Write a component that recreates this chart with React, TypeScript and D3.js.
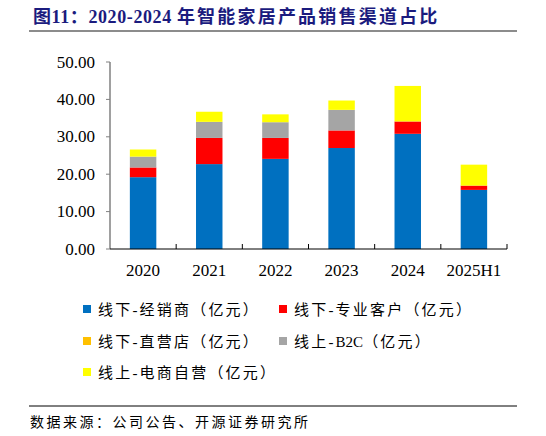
import * as d3 from "d3";

const categories = ["2020", "2021", "2022", "2023", "2024", "2025H1"];
const seriesNames = [
  "线下-经销商（亿元）",
  "线下-专业客户（亿元）",
  "线下-直营店（亿元）",
  "线上-B2C（亿元）",
  "线上-电商自营（亿元）",
];
const seriesColors = ["#0070C0", "#FF0000", "#FFC000", "#A5A5A5", "#FFFF00"];
const dealer = [19.2, 22.7, 24.1, 27.0, 30.8, 15.8];
const professional = [2.6, 7.0, 5.6, 4.7, 3.3, 1.15];
const directStore = [0, 0, 0, 0, 0, 0];
const b2c = [2.9, 4.3, 4.2, 5.5, 0, 0];
const ecommerce = [1.9, 2.7, 2.1, 2.5, 9.5, 5.6];
const yTickValues = [0, 10, 20, 30, 40, 50];

const serif = "'Liberation Serif', 'Times New Roman', 'Noto Sans CJK SC', serif";

// CJK runs get extra spacing, latin runs (like "-B2C") stay tight
function spaced(label: string, gap: number) {
  const parts = label.match(/[A-Za-z0-9]+|[^A-Za-z0-9]+/g) ?? [label];
  return parts.map((p, i) => (
    <tspan key={i} letterSpacing={/[A-Za-z0-9]/.test(p) ? 0 : gap}>
      {p}
    </tspan>
  ));
}

export default function App() {
  const width = 546;
  const height = 436;
  const plot = { left: 110, right: 507, top: 62, bottom: 249 };

  const x = d3
    .scaleBand<string>()
    .domain(categories)
    .range([plot.left, plot.right])
    .paddingInner(0.6)
    .paddingOuter(0.3);
  const band = d3.scaleBand<string>().domain(categories).range([plot.left, plot.right]);
  const y = d3.scaleLinear().domain([0, 50]).range([plot.bottom, plot.top]);

  const values = [dealer, professional, directStore, b2c, ecommerce];
  const rows = categories.map((c, i) => {
    const r: Record<string, number | string> = { cat: c };
    values.forEach((v, k) => (r[`s${k}`] = v[i]));
    return r;
  });
  const stack = d3.stack<Record<string, number | string>>().keys(values.map((_, k) => `s${k}`));
  const layers = stack(rows as any);

  // legend layout: two columns, three rows
  const legendPos = [
    [83, 309],
    [279, 309],
    [83, 341],
    [279, 341],
    [83, 372],
  ];

  return (
    <svg
      width={width}
      height={height}
      style={{ position: "absolute", left: 0, top: 0, background: "#fff" }}
    >
      {/* title */}
      <text
        x={33}
        y={23}
        fontFamily={serif}
        fontWeight="bold"
        fontSize={18}
        fill="#1B1B7E"
      >
        <tspan letterSpacing={0.6}>图11：2020-2024 </tspan>
        <tspan letterSpacing={2.2}>年智能家居产品销售渠道占比</tspan>
      </text>
      <line x1={29} x2={517} y1={31} y2={31} stroke="#666" strokeWidth={1.5} />

      {/* bars */}
      {layers.map((layer, k) =>
        layer.map((d, i) => {
          const h = y(d[0]) - y(d[1]);
          if (h <= 0) return null;
          return (
            <rect
              key={`${k}-${i}`}
              x={x(categories[i])}
              y={y(d[1])}
              width={x.bandwidth()}
              height={h}
              fill={seriesColors[k]}
            />
          );
        }),
      )}

      {/* y axis */}
      <line x1={plot.left} x2={plot.left} y1={plot.top} y2={plot.bottom} stroke="#808080" strokeWidth={1.5} />
      {yTickValues.map((t) => (
        <g key={t}>
          <line x1={plot.left - 4} x2={plot.left} y1={y(t)} y2={y(t)} stroke="#808080" />
          <text
            x={95}
            y={y(t) + 5.5}
            textAnchor="end"
            fontFamily={serif}
            fontSize={17}
            fill="#000"
          >
            {t.toFixed(2)}
          </text>
        </g>
      ))}

      {/* x axis */}
      <line x1={plot.left} x2={plot.right} y1={plot.bottom} y2={plot.bottom} stroke="#000" strokeWidth={1} />
      {categories.map((c) => (
        <line
          key={`xt-${c}`}
          x1={band(c)! + band.bandwidth()}
          x2={band(c)! + band.bandwidth()}
          y1={plot.bottom - 5}
          y2={plot.bottom}
          stroke="#000"
        />
      ))}
      {categories.map((c) => (
        <text
          key={`xl-${c}`}
          x={x(c)! + x.bandwidth() / 2}
          y={276}
          textAnchor="middle"
          fontFamily={serif}
          fontSize={17}
          fill="#000"
        >
          {c}
        </text>
      ))}

      {/* legend */}
      {seriesNames.map((name, k) => (
        <g key={name}>
          <rect
            x={legendPos[k][0]}
            y={legendPos[k][1] - 4}
            width={8}
            height={8}
            fill={seriesColors[k]}
          />
          <text
            x={legendPos[k][0] + 15}
            y={legendPos[k][1] + 5.5}
            fontFamily={serif}
            fontSize={15}
            fill="#000"
          >
            {spaced(name, 2.2)}
          </text>
        </g>
      ))}

      {/* source */}
      <line x1={29} x2={517} y1={406} y2={406} stroke="#000" strokeWidth={1} />
      <text x={30} y={427} fontFamily={serif} fontSize={14} letterSpacing={2.5} fill="#000">
        数据来源：公司公告、开源证券研究所
      </text>
    </svg>
  );
}
